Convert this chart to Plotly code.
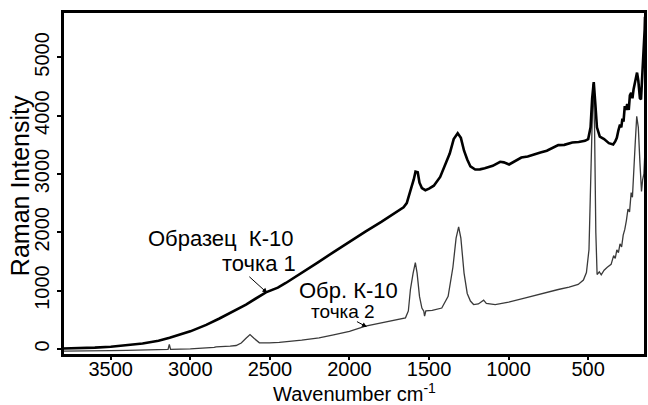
import plotly.graph_objects as go

# Spectrum 1 (Образец К-10, точка 1) - thick line
wn1 = [3800, 3700, 3600, 3500, 3400, 3300, 3200, 3130, 3000, 2900, 2817, 2700, 2650, 2525, 2450,
       2400, 2300, 2200, 2100, 2000, 1900, 1800, 1700, 1660, 1640, 1625, 1610, 1596, 1585, 1571, 1560, 1545,
       1523, 1500, 1470, 1430, 1400, 1370, 1345, 1320, 1300, 1280, 1260, 1240, 1210, 1180, 1150,
       1100, 1053, 1030, 997, 960, 920, 880, 850, 800, 760, 720, 688, 650, 600, 560, 520, 500,
       485, 475, 465, 455, 445, 427, 400, 370, 343, 330, 320, 310, 300, 292, 285, 278, 270, 262,
       255, 245, 238, 230, 222, 215, 207, 200, 193, 185, 175, 168, 160, 150, 145, 143]
int1 = [5, 10, 20, 35, 60, 90, 140, 189, 300, 410, 520, 680, 760, 970, 1050,
        1130, 1300, 1480, 1660, 1840, 2010, 2180, 2350, 2430, 2500, 2620, 2780, 2906, 3040, 3030, 2850, 2760,
        2722, 2750, 2800, 2950, 3150, 3350, 3600, 3700, 3620, 3400, 3250, 3130, 3077, 3080, 3100,
        3140, 3210, 3200, 3163, 3220, 3283, 3300, 3330, 3370, 3400, 3460, 3495, 3500, 3540, 3550, 3570, 3600,
        3800, 4300, 4576, 4200, 3800, 3640, 3600, 3530, 3506, 3560, 3620, 3750, 3850, 3800, 3950, 3900, 4164, 4100,
        4200, 4100, 4350, 4395, 4300, 4450, 4550, 4600, 4740, 4600, 4300, 4280, 4700, 5000, 5483, 5700]

# Spectrum 2 (Обр. К-10, точка 2) - thin line
wn2 = [3800, 3700, 3600, 3500, 3400, 3300, 3200, 3140, 3132, 3124, 3000, 2900, 2850, 2838, 2800,
       2750, 2712, 2680, 2650, 2625, 2600, 2566, 2504, 2441, 2300, 2191, 2100, 2000, 1899, 1800,
       1700, 1648, 1630, 1617, 1600, 1586, 1575, 1560, 1545, 1533, 1528, 1520, 1480, 1420, 1380,
       1350, 1330, 1314, 1300, 1280, 1260, 1240, 1220, 1190, 1157, 1140, 1084, 1000, 900, 813,
       780, 688, 620, 563, 530, 511, 495, 480, 469, 460, 452, 444, 430, 418, 400, 380, 356, 340,
       330, 320, 310, 300, 290, 280, 270, 260, 250, 240, 230, 222, 215, 205, 195, 185, 175, 165,
       158, 150, 145, 143]
int2 = [-40, -40, -35, -30, -25, -20, -15, -10, 74, -10, 0, 10, 25, 33, 35,
        45, 57, 100, 180, 245, 180, 103, 103, 110, 150, 189, 240, 300, 388, 440,
        500, 532, 650, 1018, 1300, 1480, 1300, 900, 700, 646, 560, 650, 660, 700, 900,
        1400, 1900, 2094, 1900, 1300, 950, 820, 760, 770, 835, 780, 760, 800, 870, 932,
        960, 1018, 1060, 1104, 1180, 1310, 1700, 3500, 4550, 3800, 2000, 1276, 1320, 1270, 1350, 1400, 1450, 1600,
        1550, 1700, 1650, 1800, 1750, 1950, 2048, 2200, 2400, 2350, 2680, 2600, 3100, 3500, 3990, 3800, 3200, 2700,
        2900, 3000, 3300, 3500]

x_ticks = [3500, 3000, 2500, 2000, 1500, 1000, 500]
y_ticks = [0, 1000, 2000, 3000, 4000, 5000]

FONT = "Liberation Sans, Arial, sans-serif"

W, H = 648, 405
ML, MR, MT, MB = 63, 1, 12, 50

fig = go.Figure()
fig.add_trace(go.Scatter(x=wn2, y=int2, mode="lines",
                         line=dict(color="#3a3a3a", width=1.3), showlegend=False))
fig.add_trace(go.Scatter(x=wn1, y=int1, mode="lines",
                         line=dict(color="black", width=2.6), showlegend=False))

# positions in window pixels -> paper coords
PL, PR, PT, PB = ML, W - MR, MT, H - MB


def px(xp):
    return (xp - PL) / (PR - PL)


def py(yp):
    return (PB - yp) / (PB - PT)


anns = [
    dict(text="Образец  К-10", x=px(221.5), y=py(238), size=22),
    dict(text="точка 1", x=px(260), y=py(263), size=22),
    dict(text="Обр. К-10", x=px(349), y=py(290), size=22),
    dict(text="точка 2", x=px(344), y=py(311), size=19),
]
for a in anns:
    fig.add_annotation(text=a["text"], x=a["x"], y=a["y"], xref="paper", yref="paper",
                       showarrow=False, xanchor="center", yanchor="middle",
                       font=dict(family=FONT, size=a["size"], color="black"))

# axis titles
fig.add_annotation(text="Wavenumber cm<sup>-1</sup>", x=0.5, y=py(392), xref="paper", yref="paper",
                   showarrow=False, xanchor="center", yanchor="middle",
                   font=dict(family=FONT, size=20, color="black"))
fig.add_annotation(text="Raman Intensity", x=px(20), y=py(186), xref="paper", yref="paper",
                   showarrow=False, xanchor="center", yanchor="middle", textangle=-90,
                   font=dict(family=FONT, size=25, color="black"))

for tip, tail in [((268, 293), (247, 274)), ((368, 327), (355, 320))]:
    fig.add_annotation(text=" ", x=px(tip[0]), y=py(tip[1]), xref="paper", yref="paper",
                       showarrow=True, ax=tail[0] - tip[0], ay=tail[1] - tip[1],
                       arrowhead=2, arrowsize=1, arrowwidth=1, arrowcolor="black")

# plot frame
fig.add_shape(type="rect", xref="paper", yref="paper", x0=0, y0=0, x1=1, y1=1,
              line=dict(color="black", width=2), layer="above")

fig.update_layout(
    width=W, height=H,
    margin=dict(l=ML, r=MR, t=MT, b=MB),
    paper_bgcolor="white", plot_bgcolor="white",
    font=dict(family=FONT, color="black"),
    xaxis=dict(range=[3800, 143], tickvals=x_ticks, ticks="outside", ticklen=3, tickwidth=1.5,
               tickcolor="black", ticklabelstandoff=-8,
               showline=True, mirror=True, linewidth=2, linecolor="black", showgrid=False,
               zeroline=False, tickfont=dict(size=20, family=FONT)),
    yaxis=dict(range=[-106, 5780], tickvals=y_ticks, ticks="outside", ticklen=4, tickwidth=1.5,
               tickcolor="black",
               showline=True, mirror=True, linewidth=2, linecolor="black", showgrid=False,
               zeroline=False, tickangle=-90, tickfont=dict(size=20, family=FONT)),
)

# remove the default page margin so the 648x405 figure fills the window exactly
page_fix = ("document.body.style.margin='0';document.body.style.overflow='hidden';"
            "document.documentElement.style.overflow='hidden';")

fig.write_html("out.html", post_script=page_fix, config={"displayModeBar": False})
